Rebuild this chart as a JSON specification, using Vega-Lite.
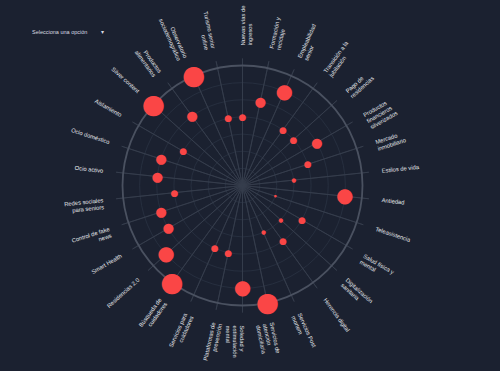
{
  "$schema": "https://vega.github.io/schema/vega-lite/v6.json",
  "autosize": "none",
  "width": 485,
  "height": 371,
  "padding": {"left": 0, "top": 0, "right": 15, "bottom": 0},
  "background": "#1b2130",
  "view": {"stroke": null},
  "title": {"text": "Selecciona una opción\u00a0\u00a0\u00a0\u00a0\u00a0\u00a0\u00a0\u00a0\u00a0▾", "anchor": "start", "frame": "group", "dx": 32, "dy": 37, "fontSize": 5.5, "font": "Liberation Sans", "fontWeight": "normal", "color": "#d8dbe0", "baseline": "middle", "offset": 0},
  "datasets": {
    "cats": [
      {"k": 0, "label": ["Nuevas vías de", "ingresos"], "value": 4},
      {"k": 1, "label": ["Formación y", "reciclaje"], "value": 5},
      {"k": 2, "label": ["Empleabilidad", "senior"], "value": 6},
      {"k": 3, "label": ["Transición a la", "jubilación"], "value": 4},
      {"k": 4, "label": ["Pago de", "residencias"], "value": 4},
      {"k": 5, "label": ["Productos", "financieros", "silverizados"], "value": 5},
      {"k": 6, "label": ["Mercado", "inmobiliario"], "value": 4},
      {"k": 7, "label": ["Estilos de vida"], "value": 3},
      {"k": 8, "label": ["Antiedad"], "value": 6},
      {"k": 9, "label": ["Teleasistencia"], "value": 2},
      {"k": 10, "label": ["Salud física y", "mental"], "value": 4},
      {"k": 11, "label": ["Digitalización", "sanitaria"], "value": 3},
      {"k": 12, "label": ["Herencia digital"], "value": 4},
      {"k": 13, "label": ["Servicios Post", "mortem"], "value": 3},
      {"k": 14, "label": ["Servicios de", "atención", "domiciliaria"], "value": 7},
      {"k": 15, "label": ["Soledad y", "estimulación", "mental"], "value": 6},
      {"k": 16, "label": ["Plataformas de", "prevención"], "value": 4},
      {"k": 17, "label": ["Servicios para", "cuidadores"], "value": 4},
      {"k": 18, "label": ["Búsqueda de", "cuidadores"], "value": 7},
      {"k": 19, "label": ["Residencias 2.0"], "value": 6},
      {"k": 20, "label": ["Smart Health"], "value": 5},
      {"k": 21, "label": ["Control de fake", "news"], "value": 5},
      {"k": 22, "label": ["Redes sociales", "para seniors"], "value": 4},
      {"k": 23, "label": ["Ocio activo"], "value": 5},
      {"k": 24, "label": ["Ocio doméstico"], "value": 5},
      {"k": 25, "label": ["Aislamiento"], "value": 4},
      {"k": 26, "label": ["Silver content"], "value": 7},
      {"k": 27, "label": ["Productos", "alimentarios"], "value": 5},
      {"k": 28, "label": ["Observatorio", "sociodemográfico"], "value": 7},
      {"k": 29, "label": ["Turismo senior", "online"], "value": 4}
    ]
  },
  "layer": [
    {
      "data": {"values": [{"level": 1}, {"level": 2}, {"level": 3}, {"level": 4}, {"level": 5}, {"level": 6}]},
      "mark": {"type": "arc", "theta": 0, "theta2": 6.2832, "fillOpacity": 0, "stroke": "#2a3242", "strokeWidth": 0.8},
      "encoding": {
        "radius": {"field": "level", "type": "quantitative", "stack": null, "scale": {"type": "linear", "domain": [0, 7], "range": [0, 120]}}
      }
    },
    {
      "data": {"name": "cats"},
      "mark": {"type": "arc", "fillOpacity": 0, "stroke": "#363d4c", "strokeWidth": 0.8},
      "encoding": {
        "theta": {"field": "k", "type": "quantitative", "scale": {"domain": [0, 30], "range": [0, 6.2832]}},
        "theta2": {"field": "k"},
        "radius": {"value": 127},
        "radius2": {"value": 0}
      }
    },
    {
      "data": {"values": [{"level": 7}]},
      "mark": {"type": "arc", "theta": 0, "theta2": 6.2832, "fillOpacity": 0, "stroke": "#4a5160", "strokeWidth": 1.8},
      "encoding": {
        "radius": {"field": "level", "type": "quantitative", "stack": null, "scale": {"type": "linear", "domain": [0, 7], "range": [0, 120]}}
      }
    },
    {
      "data": {"name": "cats"},
      "mark": {"type": "text", "text": "●", "font": "DejaVu Sans", "baseline": "middle", "align": "center", "color": "#fa4646"},
      "encoding": {
        "theta": {"field": "k", "type": "quantitative", "scale": {"domain": [0, 30], "range": [0, 6.2832]}},
        "radius": {"field": "value", "type": "quantitative", "stack": null, "scale": {"type": "linear", "domain": [0, 7], "range": [0, 120]}},
        "size": {"field": "value", "type": "quantitative", "scale": {"domain": [2, 3, 4, 5, 6, 7], "range": [3.3, 5.7, 9, 13.3, 20, 26.7]}, "legend": null}
      }
    },
    {
      "data": {"name": "cats"},
      "transform": [{"filter": "datum.k <= 15"}],
      "mark": {"type": "text", "align": "left", "baseline": "middle", "radius": 140, "font": "Liberation Sans", "fontSize": 5.8, "lineHeight": 7, "color": "#e4e6ea"},
      "encoding": {
        "theta": {"field": "k", "type": "quantitative", "scale": {"domain": [0, 30], "range": [0, 6.2832]}},
        "text": {"field": "label"},
        "angle": {"field": "k", "type": "quantitative", "scale": {"domain": [0, 30], "range": [-90, 270]}}
      }
    },
    {
      "data": {"name": "cats"},
      "transform": [{"filter": "datum.k > 15"}],
      "mark": {"type": "text", "align": "right", "baseline": "middle", "radius": 140, "font": "Liberation Sans", "fontSize": 5.8, "lineHeight": 7, "color": "#e4e6ea"},
      "encoding": {
        "theta": {"field": "k", "type": "quantitative", "scale": {"domain": [0, 30], "range": [0, 6.2832]}},
        "text": {"field": "label"},
        "angle": {"field": "k", "type": "quantitative", "scale": {"domain": [0, 30], "range": [-270, 90]}}
      }
    }
  ],
  "resolve": {"scale": {"angle": "independent"}}
}
